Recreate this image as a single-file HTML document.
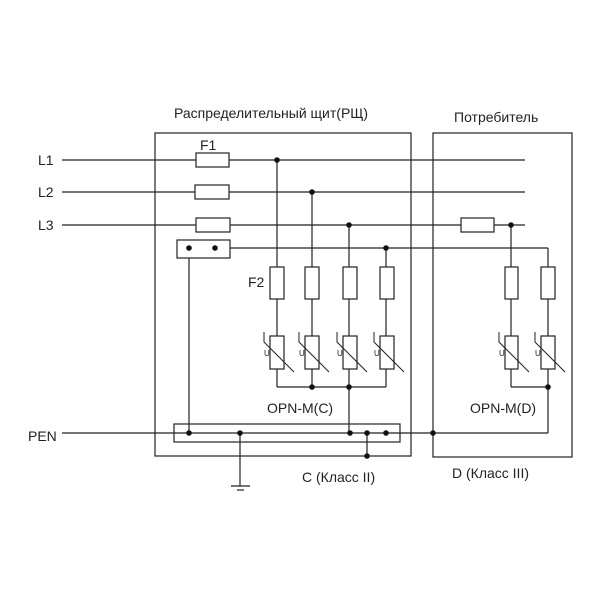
<!DOCTYPE html>
<html><head><style>body{margin:0;background:#fff}svg{display:block}text{font-family:"Liberation Sans","DejaVu Sans",sans-serif;fill:#222}</style></head><body>
<svg width="600" height="600" viewBox="0 0 600 600" xmlns="http://www.w3.org/2000/svg">
<g fill="none" stroke="#222" stroke-width="1.2">
<rect x="155" y="133" width="256" height="323"/>
<rect x="433" y="133" width="139" height="324"/>
<line x1="62" y1="160" x2="525" y2="160"/>
<line x1="62" y1="192" x2="525" y2="192"/>
<line x1="62" y1="225" x2="525" y2="225"/>
<line x1="189" y1="248" x2="548" y2="248"/>
<line x1="548" y1="248" x2="548" y2="433"/>
<line x1="62" y1="433" x2="548" y2="433"/>
<line x1="189" y1="248" x2="189" y2="433"/>
<rect x="177" y="240" width="53" height="18" fill="#fff"/>
<rect x="196" y="153" width="33" height="14" fill="#fff"/>
<rect x="195" y="185" width="34" height="14" fill="#fff"/>
<rect x="196" y="218" width="34" height="14" fill="#fff"/>
<rect x="461" y="218" width="33" height="14" fill="#fff"/>
<rect x="174" y="424" width="226" height="18"/>
<line x1="277" y1="160" x2="277" y2="387"/>
<line x1="312" y1="192" x2="312" y2="387"/>
<line x1="349" y1="225" x2="349" y2="433"/>
<line x1="386" y1="248" x2="386" y2="387"/>
<line x1="277" y1="387" x2="386" y2="387"/>
<line x1="511" y1="225" x2="511" y2="387"/>
<line x1="511" y1="387" x2="548" y2="387"/>
<line x1="367" y1="433" x2="367" y2="456"/>
<line x1="240" y1="433" x2="240" y2="486"/>
<line x1="231" y1="486" x2="250" y2="486"/>
<line x1="237" y1="490" x2="244" y2="490"/>
<g fill="#fff">
<rect x="270" y="267" width="14" height="32"/><rect x="305" y="267" width="14" height="32"/>
<rect x="343" y="267" width="14" height="32"/><rect x="380" y="267" width="14" height="32"/>
<rect x="505" y="267" width="13" height="32"/><rect x="541" y="267" width="14" height="32"/>
<rect x="270" y="336" width="14" height="33"/><rect x="305" y="336" width="14" height="33"/>
<rect x="343" y="336" width="14" height="33"/><rect x="380" y="336" width="14" height="33"/>
<rect x="505" y="336" width="13" height="33"/><rect x="541" y="336" width="14" height="33"/>
</g>
<path d="M264 332v10l30 30M299 332v10l30 30M337 332v10l30 30M374 332v10l30 30M499 332v10l30 30M535 332v10l30 30" stroke-width="1"/>
</g>
<g fill="#111">
<circle cx="277" cy="160" r="2.8"/><circle cx="312" cy="192" r="2.8"/><circle cx="349" cy="225" r="2.8"/>
<circle cx="511" cy="225" r="2.8"/><circle cx="189" cy="248" r="2.8"/><circle cx="215" cy="248" r="2.8"/>
<circle cx="386" cy="248" r="2.8"/><circle cx="312" cy="387" r="2.8"/><circle cx="349" cy="387" r="2.8"/>
<circle cx="548" cy="387" r="2.8"/>
<circle cx="189" cy="433" r="2.8"/><circle cx="240" cy="433" r="2.8"/><circle cx="350" cy="433" r="2.8"/>
<circle cx="367" cy="433" r="2.8"/><circle cx="386" cy="433" r="2.8"/><circle cx="433" cy="433" r="2.8"/>
<circle cx="367" cy="456" r="2.8"/>
</g>
<g font-size="8"><text x="264" y="356">U</text><text x="299" y="356">U</text><text x="337" y="356">U</text><text x="374" y="356">U</text><text x="499" y="356">U</text><text x="535" y="356">U</text></g>
<g font-size="14">
<text x="174" y="118">Распределительный щит(РЩ)</text>
<text x="454" y="122">Потребитель</text>
<text x="38" y="165">L1</text><text x="38" y="197">L2</text><text x="38" y="230">L3</text>
<text x="28" y="441">PEN</text>
<text x="200" y="150">F1</text><text x="248" y="287">F2</text>
<text x="267" y="413">OPN-M(C)</text><text x="470" y="413">OPN-M(D)</text>
<text x="302" y="482">C (Класс II)</text><text x="452" y="478">D (Класс III)</text>
</g>
</svg>
</body></html>
